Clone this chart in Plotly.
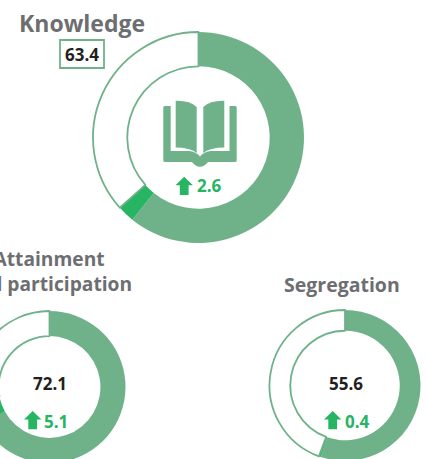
import plotly.graph_objects as go

# ---- data ----
names = ["Knowledge", "Attainment<br>and participation", "Segregation"]
scores = [63.4, 72.1, 55.6]
changes = [2.6, 5.1, 0.4]
base_values = [60.8, 67.0, 55.2]
rest_values = [36.6, 27.9, 44.4]

# ---- style / layout ----
MAIN = "#6fb28a"
GREEN = "#27b463"
GREY = "#6d6e71"
FONT = "Open Sans"
OX = 40  # page is shifted left so that the left donut is cropped by the window
W, H = 427 + OX, 480
centers = [(198.5, 137.5), (49.5, 387.0), (345.0, 385.5)]
radii = [105.5, 76.0, 75.5]
holes = [0.675, 0.67, 0.725]
arrow_x = [184.2, 32.7, 332.7]
arrow_y = [176.7, 411.0, 411.0]
delta_pos = [(209, 186), (56, 421), (357, 421)]
score_pos = [(82, 54.5), (50, 383), (346, 383)]
title_pos = [(82.5, 23), (49, 271), (342, 284)]
title_size = [23, 19.2, 19.5]


def px(x):
    return (x + OX) / W


def py(y):
    return 1 - y / H


def path(cmds):
    out = []
    for c in cmds:
        if c == "Z":
            out.append("Z")
        else:
            op, *pts = c
            out.append(op + " ".join(f"{px(pts[i]):.5f},{py(pts[i + 1]):.5f}" for i in range(0, len(pts), 2)))
    return " ".join(out)


fig = go.Figure()
for i in range(3):
    cx, cy = centers[i]
    r = radii[i]
    fig.add_trace(go.Pie(
        values=[base_values[i], changes[i], rest_values[i]],
        labels=["Score", "Change", "Gap"],
        sort=False, direction="clockwise", rotation=0,
        hole=holes[i], textinfo="none", showlegend=False, hoverinfo="skip",
        marker=dict(colors=[MAIN, GREEN, "#ffffff"],
                    line=dict(color=MAIN, width=[0, 0, 1.8])),
        domain=dict(x=[px(cx - r), px(cx + r)], y=[py(cy + r), py(cy - r)]),
    ))

ann = []
for i in range(3):
    ann.append(dict(text=f"<b>{names[i]}</b>", x=px(title_pos[i][0]), y=py(title_pos[i][1]),
                    font=dict(family=FONT, size=title_size[i], color=GREY)))
    ann.append(dict(text=f"<b>{scores[i]}</b>", x=px(score_pos[i][0]), y=py(score_pos[i][1]),
                    font=dict(family=FONT, size=17, color="#231f20")))
    ann.append(dict(text=f"<b>{changes[i]}</b>", x=px(delta_pos[i][0]), y=py(delta_pos[i][1]),
                    font=dict(family=FONT, size=17, color=GREEN)))
for a in ann:
    a.update(xref="paper", yref="paper", showarrow=False, align="center", yanchor="middle", xanchor="center")

shapes = []
# value box
shapes.append(dict(type="rect", xref="paper", yref="paper",
                   x0=px(60), x1=px(104), y0=py(68), y1=py(40),
                   line=dict(color=MAIN, width=1.8), fillcolor="rgba(0,0,0,0)"))
# arrows
for ax, ay in zip(arrow_x, arrow_y):
    shapes.append(dict(type="path", xref="paper", yref="paper", fillcolor=GREEN, line=dict(width=0),
                       path=path([("M", ax, ay), ("L", ax + 8.7, ay + 8.6), ("L", ax + 4.4, ay + 8.6),
                                  ("L", ax + 4.4, ay + 18.3), ("L", ax - 4.4, ay + 18.3),
                                  ("L", ax - 4.4, ay + 8.6), ("L", ax - 8.7, ay + 8.6), "Z"])))
# book icon
book = [
    [("M", 164.8, 106), ("L", 170.7, 106), ("L", 170.7, 151), ("L", 189, 151), ("Q", 196, 151.5, 200, 156.5),
     ("Q", 204, 151.5, 211, 151), ("L", 229.5, 151), ("L", 229.5, 106), ("L", 235.2, 106),
     ("Q", 236.7, 106, 236.7, 107.5), ("L", 236.7, 160.5), ("Q", 236.7, 162, 235.2, 162), ("L", 208, 162),
     ("Q", 204.5, 166.7, 200, 166.7), ("Q", 195.5, 166.7, 192, 162), ("L", 164.8, 162),
     ("Q", 163.3, 162, 163.3, 160.5), ("L", 163.3, 107.5), ("Q", 163.3, 106, 164.8, 106), "Z"],
    [("M", 175.7, 100.8), ("Q", 190, 100.5, 196.7, 107), ("L", 196.7, 153), ("Q", 190, 147.5, 175.7, 147.5), "Z"],
    [("M", 224.3, 100.8), ("Q", 210, 100.5, 203.3, 107), ("L", 203.3, 153), ("Q", 210, 147.5, 224.3, 147.5), "Z"],
]
for b in book:
    shapes.append(dict(type="path", xref="paper", yref="paper", fillcolor=MAIN, line=dict(width=0), path=path(b)))

fig.update_layout(width=W, height=H, margin=dict(l=0, r=0, t=0, b=0), autosize=False,
                  paper_bgcolor="white", plot_bgcolor="white", annotations=ann, shapes=shapes)

post = (f"document.documentElement.style.overflow='hidden';document.body.style.overflow='hidden';"
        f"document.body.style.margin='0';document.body.style.padding='0';"
        f"var g=document.querySelector('.plotly-graph-div');g.style.position='absolute';g.style.left='-{OX}px';g.style.top='0';")
fig.write_html("out.html", config=dict(displayModeBar=False, responsive=False), post_script=post)
